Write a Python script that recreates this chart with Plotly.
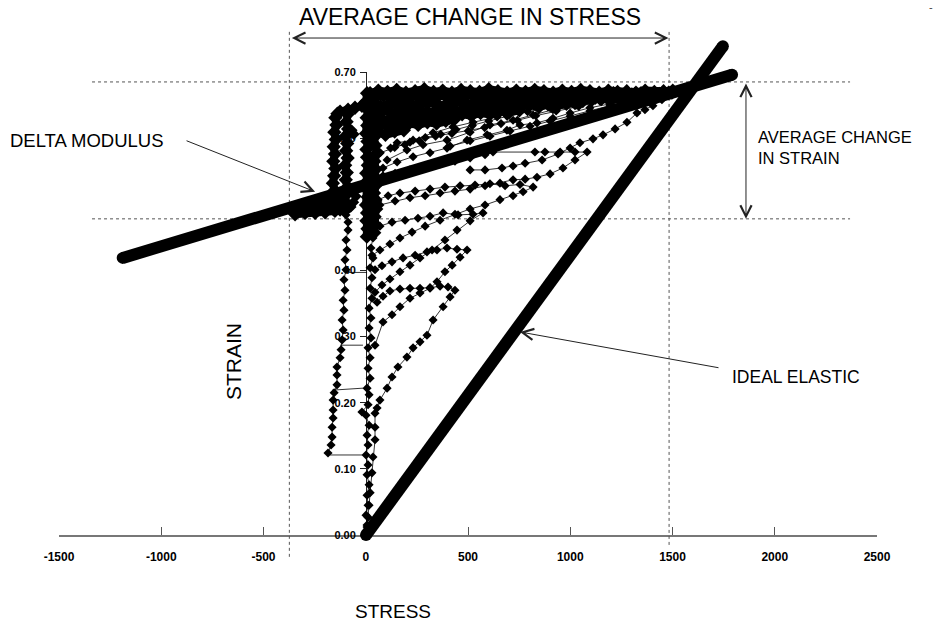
import plotly.graph_objects as go

# ---------------- axis ticks ----------------
x_ticks = [-1500, -1000, -500, 0, 500, 1000, 1500, 2000, 2500]
x_labels = ["-1500", "-1000", "-500", "0", "500", "1000", "1500", "2000", "2500"]
y_ticks = [0.0, 0.1, 0.2, 0.3, 0.4, 0.5, 0.6, 0.7]

# ---------------- reference lines ----------------
ideal_stress = [0, 1745]
ideal_strain = [0.0, 0.739]
delta_stress = [-1190, 1790]
delta_strain = [0.419, 0.696]

# guide levels (average change in stress / strain)
stress_lo, stress_hi = -375, 1482
strain_lo, strain_hi = 0.478, 0.685

# ---------------- measured loops (stress, strain) ----------------
L1_x = [0, 5, 10, 15, 20, 29, 34, 44, 44, 44, 54, 68, 103, 127, 156, 200, 230, 264, 298, 328,
        377, 411, 435, 401, 362, 313, 264, 215, 166, 117, 83, 54]
L1_y = [0, 0.012, 0.027, 0.045, 0.064, 0.094, 0.118, 0.144, 0.163, 0.184, 0.192, 0.204, 0.222,
        0.239, 0.254, 0.269, 0.283, 0.292, 0.302, 0.325, 0.345, 0.360, 0.370, 0.375, 0.376,
        0.374, 0.373, 0.373, 0.372, 0.369, 0.361, 0.352]

L2_x = [44, 83, 127, 166, 215, 264, 313, 347, 386, 421, 460, 494, 445, 396, 347, 298, 240, 181, 127, 78, 44]
L2_y = [0.287, 0.322, 0.333, 0.345, 0.358, 0.366, 0.373, 0.383, 0.398, 0.408, 0.420, 0.431, 0.432,
        0.434, 0.431, 0.428, 0.423, 0.419, 0.413, 0.407, 0.401]

L3_x = [44, 78, 117, 166, 215, 264, 323, 386, 445, 509, 572, 523, 450, 377, 313, 254, 191, 127, 68, 29]
L3_y = [0.367, 0.378, 0.387, 0.398, 0.408, 0.419, 0.431, 0.446, 0.461, 0.475, 0.487, 0.485, 0.484,
        0.487, 0.482, 0.479, 0.476, 0.473, 0.467, 0.461]

L4_x = [29, 68, 117, 166, 225, 289, 362, 435, 509, 582, 655, 719, 768, 817, 753, 680, 606, 533,
        460, 386, 313, 240, 166, 108, 59]
L4_y = [0.423, 0.431, 0.440, 0.449, 0.458, 0.467, 0.476, 0.485, 0.493, 0.499, 0.507, 0.513, 0.519,
        0.526, 0.530, 0.528, 0.531, 0.529, 0.528, 0.526, 0.523, 0.520, 0.517, 0.513, 0.507]

L5_x = [68, 142, 215, 289, 362, 435, 509, 582, 655, 719, 778, 836, 900, 963, 1022, 1081, 1022, 949,
        875, 826, 621, 582, 509, 435, 362, 289, 215, 142, 83]
L5_y = [0.499, 0.505, 0.510, 0.513, 0.517, 0.520, 0.523, 0.528, 0.532, 0.537, 0.538, 0.541, 0.546,
        0.555, 0.567, 0.579, 0.579, 0.579, 0.579, 0.579, 0.579, 0.575, 0.570, 0.565, 0.561, 0.556,
        0.552, 0.547, 0.543]

L6_x = [509, 582, 665, 719, 778, 861, 939, 998, 1046, 1110, 1159, 1218, 1276, 1325, 1364, 1403, 1447, 1496, 1550]
L6_y = [0.552, 0.552, 0.555, 0.558, 0.562, 0.567, 0.576, 0.585, 0.593, 0.599, 0.605, 0.614, 0.624,
        0.638, 0.643, 0.649, 0.658, 0.665, 0.673]

Ca_x = [83, 152, 230, 313, 396, 494, 592, 689, 753, 836, 914, 998, 1095, 1193, 1291, 1413, 1511]
Ca_y = [0.555, 0.564, 0.572, 0.578, 0.585, 0.597, 0.605, 0.612, 0.620, 0.623, 0.630, 0.638, 0.646,
        0.652, 0.658, 0.665, 0.671]
Cb_x = [103, 200, 279, 396, 509, 606, 719, 817, 914, 1022, 1144, 1267, 1389]
Cb_y = [0.567, 0.582, 0.590, 0.597, 0.609, 0.620, 0.627, 0.635, 0.643, 0.649, 0.656, 0.662, 0.668]
Cc_x = [152, 230, 328, 425, 523, 641, 753, 885, 1022, 1169, 1315]
Cc_y = [0.593, 0.597, 0.608, 0.617, 0.624, 0.632, 0.643, 0.653, 0.661, 0.667, 0.671]
Cd_x = [411, 509, 606, 704, 802, 900, 998, 1095, 1193, 1291, 1389, 1487]
Cd_y = [0.588, 0.596, 0.603, 0.611, 0.618, 0.626, 0.633, 0.641, 0.649, 0.657, 0.663, 0.669]
Ce_x = [70, 140, 215, 290, 365, 440, 520, 600, 690, 790, 900, 1010, 1120, 1240, 1360, 1480]
Ce_y = [0.578, 0.586, 0.594, 0.601, 0.606, 0.613, 0.619, 0.626, 0.633, 0.640, 0.646, 0.652, 0.657,
        0.662, 0.667, 0.671]
Cf_x = [120, 190, 260, 340, 420, 500, 580, 660, 740, 830, 930, 1040, 1150, 1260, 1380]
Cf_y = [0.585, 0.590, 0.596, 0.603, 0.607, 0.611, 0.616, 0.622, 0.627, 0.634, 0.641, 0.648, 0.655,
        0.661, 0.666]

# dense upper branches (top band)
RA_x = [20, 60, 105, 150, 195, 240, 285, 330, 375, 420, 465, 510, 555, 600, 645, 690, 735, 780, 825,
        870, 915, 960, 1005, 1050, 1095, 1140, 1185, 1230, 1275, 1320, 1365, 1410, 1455, 1500, 1545, 1580]
RA_y = [0.668, 0.672, 0.670, 0.673, 0.669, 0.671, 0.674, 0.670, 0.672, 0.669, 0.673, 0.671, 0.670,
        0.674, 0.671, 0.669, 0.672, 0.670, 0.673, 0.671, 0.669, 0.672, 0.670, 0.673, 0.671, 0.669,
        0.672, 0.670, 0.671, 0.669, 0.672, 0.670, 0.671, 0.672, 0.670, 0.672]
RB_x = [40, 85, 130, 175, 220, 265, 310, 355, 400, 445, 490, 535, 580, 625, 670, 715, 760, 805, 850,
        895, 940, 985, 1030, 1075, 1120, 1165, 1210, 1255, 1300, 1345, 1390, 1435, 1480]
RB_y = [0.661, 0.664, 0.660, 0.663, 0.662, 0.665, 0.661, 0.664, 0.662, 0.660, 0.665, 0.663, 0.661,
        0.664, 0.662, 0.666, 0.663, 0.661, 0.665, 0.663, 0.666, 0.662, 0.664, 0.667, 0.663, 0.665,
        0.668, 0.664, 0.666, 0.668, 0.665, 0.667, 0.669]
RC_x = [25, 70, 115, 160, 205, 250, 295, 340, 385, 430, 475, 520, 565, 610, 655, 700, 745, 790, 835,
        880, 925, 970, 1015, 1060, 1105, 1150, 1195, 1240, 1290]
RC_y = [0.651, 0.648, 0.652, 0.649, 0.653, 0.650, 0.654, 0.651, 0.649, 0.653, 0.655, 0.651, 0.654,
        0.652, 0.656, 0.653, 0.657, 0.654, 0.656, 0.658, 0.655, 0.657, 0.659, 0.656, 0.658, 0.660,
        0.657, 0.660, 0.662]
RD_x = [35, 80, 125, 170, 215, 260, 305, 350, 395, 440, 485, 530, 575, 620, 665, 710, 755, 800, 845,
        890, 935, 980, 1030]
RD_y = [0.639, 0.642, 0.638, 0.641, 0.640, 0.643, 0.639, 0.642, 0.644, 0.641, 0.645, 0.643, 0.646,
        0.644, 0.647, 0.645, 0.648, 0.650, 0.647, 0.651, 0.649, 0.652, 0.654]
RE_x = [20, 65, 110, 155, 200, 245, 290, 335, 380, 425, 470, 515, 560, 605, 650, 700, 750]
RE_y = [0.628, 0.631, 0.627, 0.630, 0.632, 0.629, 0.633, 0.631, 0.634, 0.632, 0.636, 0.634, 0.638,
        0.636, 0.640, 0.639, 0.642]
RF_x = [30, 75, 120, 165, 210, 255, 300, 345, 390, 430]
RF_y = [0.617, 0.620, 0.616, 0.619, 0.622, 0.620, 0.624, 0.622, 0.626, 0.628]
RG_x = [15, 55, 95, 140, 185]
RG_y = [0.606, 0.609, 0.605, 0.610, 0.612]

# columns near zero stress and at negative stress
CR_x = [0, 5, 0, 10, 5, 15, 5, 10, 0, 10, 5, 15, 0, -20, 10, 15, 5, 20, 10, 20, 10, 24, 15, 24, 15,
        29, 20, 29, 20, 34, 24, 34, 24, 39, 29, 39]
CR_y = [0, 0.015, 0.030, 0.045, 0.060, 0.076, 0.091, 0.106, 0.121, 0.136, 0.151, 0.166, 0.181, 0.186,
        0.197, 0.212, 0.222, 0.237, 0.252, 0.268, 0.283, 0.298, 0.313, 0.328, 0.343, 0.358, 0.373,
        0.389, 0.404, 0.419, 0.434, 0.449, 0.464, 0.479, 0.494, 0.510]
R1_x = [5, 0, 8, 3, 6, 0, 7, 2, 5, 9, 1, 6, 3, 8, 0, 5, 2, 7, 4]
R1_y = [0.668, 0.655, 0.643, 0.631, 0.619, 0.607, 0.595, 0.583, 0.571, 0.559, 0.547, 0.535, 0.523,
        0.511, 0.499, 0.487, 0.475, 0.463, 0.451]
R2_x = [40, 48, 42, 50, 44, 38, 46, 52, 41, 47, 43, 49, 39, 45, 50, 42, 46, 40]
R2_y = [0.662, 0.649, 0.637, 0.625, 0.613, 0.601, 0.589, 0.577, 0.565, 0.553, 0.541, 0.529, 0.517,
        0.505, 0.493, 0.481, 0.469, 0.457]
CL_x = [-186, -171, -166, -166, -161, -161, -161, -156, -142, -142, -142, -127, -122, -117, -112,
        -117, -108, -112, -103, -108, -98, -103, -93, -98, -88, -88, -98, -127]
CL_y = [0.124, 0.136, 0.148, 0.163, 0.177, 0.189, 0.204, 0.215, 0.227, 0.242, 0.254, 0.268, 0.280,
        0.295, 0.310, 0.325, 0.340, 0.355, 0.370, 0.386, 0.401, 0.416, 0.431, 0.446, 0.461, 0.473,
        0.484, 0.488]
N1_x = [-150, -145, -155, -148, -158, -152, -160, -150, -156, -162, -154, -165, -160]
N1_y = [0.631, 0.620, 0.609, 0.598, 0.587, 0.576, 0.565, 0.554, 0.543, 0.532, 0.521, 0.510, 0.499]
N2_x = [-90, -95, -88, -100, -92, -97, -90, -102, -94, -99, -91, -96, -103, -95]
N2_y = [0.636, 0.625, 0.614, 0.603, 0.592, 0.581, 0.570, 0.559, 0.548, 0.537, 0.526, 0.515, 0.504, 0.493]
NT_x = [-140, -127, -88, -54, -20]
NT_y = [0.637, 0.640, 0.643, 0.646, 0.649]
NJ_x = [-70, -60, -50, -62, -75]
NJ_y = [0.612, 0.606, 0.512, 0.503, 0.496]
BU_x = [-347, -298, -249, -200, -152, -103, -127, -225, -323]
BU_y = [0.485, 0.487, 0.487, 0.488, 0.490, 0.491, 0.502, 0.499, 0.494]
CN_x = [-176, -20, None, -166, -15, None, -127, -15, None, -88, 5]
CN_y = [0.121, 0.121, None, 0.219, 0.222, None, 0.287, 0.287, None, 0.397, 0.397]

# ---------------- figure ----------------
W, H = 939, 627
FONT = "Liberation Sans, Arial, sans-serif"
fig = go.Figure()

# dummy trace so the axis subplot is drawn
fig.add_trace(go.Scatter(x=[x_ticks[0], x_ticks[-1]], y=[y_ticks[0], y_ticks[-1]], mode="markers",
                         marker=dict(opacity=0), hoverinfo="skip", xaxis="x", yaxis="y"))


def pts(xs, ys, size=7, lw=0.8, mode="lines+markers"):
    fig.add_trace(go.Scatter(x=xs, y=ys, mode=mode, xaxis="x2", yaxis="y2",
                             line=dict(color="black", width=lw),
                             marker=dict(symbol="diamond", size=size, color="black", line=dict(width=0)),
                             hoverinfo="skip"))


pts(CN_x, CN_y, mode="lines")
for xs, ys in [(CR_x, CR_y), (CL_x, CL_y), (L1_x, L1_y), (L2_x, L2_y), (L3_x, L3_y),
               (L4_x, L4_y), (L5_x, L5_y), (L6_x, L6_y), (Ca_x, Ca_y), (Cb_x, Cb_y),
               (Cc_x, Cc_y), (Cd_x, Cd_y), (Ce_x, Ce_y), (Cf_x, Cf_y)]:
    pts(xs, ys, size=7)
pts(NJ_x, NJ_y, size=9, mode="markers")
# dense, overlapping parts of the record (solid-looking mass)
for xs, ys in [(RA_x, RA_y), (RB_x, RB_y), (RC_x, RC_y), (RD_x, RD_y), (RE_x, RE_y),
               (RF_x, RF_y), (RG_x, RG_y), (R1_x, R1_y), (R2_x, R2_y), (N1_x, N1_y),
               (N2_x, N2_y), (NT_x, NT_y), (BU_x, BU_y)]:
    pts(xs, ys, size=11, lw=8)

# thick reference lines with round ends
for xs, ys in [(delta_stress, delta_strain), (ideal_stress, ideal_strain)]:
    fig.add_trace(go.Scatter(x=xs, y=ys, mode="lines+markers", xaxis="x2", yaxis="y2",
                             line=dict(color="black", width=12),
                             marker=dict(symbol="circle", size=12, color="black"),
                             hoverinfo="skip"))

dot = dict(color="#555", width=1, dash="dot")
shapes = [
    dict(type="line", xref="x2", yref="y2", x0=stress_lo, x1=stress_lo, y0=-0.033, y1=0.764, line=dot, layer="below"),
    dict(type="line", xref="x2", yref="y2", x0=stress_hi, x1=stress_hi, y0=-0.015, y1=0.764, line=dot, layer="below"),
    dict(type="line", xref="x2", yref="y2", x0=-1340, x1=2367, y0=strain_hi, y1=strain_hi, line=dot, layer="below"),
    dict(type="line", xref="x2", yref="y2", x0=-1340, x1=2367, y0=strain_lo, y1=strain_lo, line=dot, layer="below"),
]

arrow_common = dict(xref="x2", yref="y2", axref="x2", ayref="y2", text="", showarrow=True,
                    arrowcolor="#222", arrowwidth=1, arrowhead=5, arrowsize=2.2, standoff=0)
annotations = [
    dict(x=stress_hi - 3, y=0.7514, ax=stress_lo + 5, ay=0.7514, arrowside="end+start",
         startarrowhead=5, startarrowsize=2.2, startstandoff=0, **arrow_common),
    dict(x=1858, y=strain_lo, ax=1858, ay=strain_hi, arrowside="end+start",
         startarrowhead=5, startarrowsize=2.2, startstandoff=0, **arrow_common),
    dict(x=-249, y=0.519, ax=-885, ay=0.597, **arrow_common),
    dict(x=753, y=0.307, ax=1731, ay=0.2525, **arrow_common),
]


def label(text, px, py, size, xanchor="center", angle=0, align="center", color="black"):
    annotations.append(dict(text=text, x=px / W, y=1 - py / H, xref="paper", yref="paper",
                            xanchor=xanchor, yanchor="middle", showarrow=False, textangle=angle,
                            align=align, font=dict(family=FONT, size=size, color=color)))


label("AVERAGE CHANGE IN STRESS", 470, 17, 23)
label("DELTA MODULUS", 8, 140, 18.5, xanchor="left")
label("AVERAGE CHANGE<br>IN STRAIN", 756, 147, 16.5, xanchor="left", align="left")
label("IDEAL ELASTIC", 730, 377, 17.5, xanchor="left")
label("STRAIN", 233, 362, 21, angle=-90)
label("STRESS", 393, 611, 19)
label("-", 931, 7, 11, color="#444")

fig.update_layout(
    width=W, height=H, margin=dict(l=0, r=0, t=0, b=0, pad=0, autoexpand=False),
    paper_bgcolor="white", plot_bgcolor="rgba(0,0,0,0)", showlegend=False,
    shapes=shapes, annotations=annotations,
    xaxis=dict(domain=[59 / W, 877 / W], range=[-1500, 2500], anchor="y", showline=True,
               linecolor="#777", linewidth=1.5, ticks="inside", ticklen=8, tickcolor="#555",
               tickvals=x_ticks, ticktext=x_labels, showgrid=False, zeroline=False,
               ticklabelstandoff=10, layer="below traces", automargin=False,
               tickfont=dict(family=FONT, size=12, color="black", weight="bold")),
    yaxis=dict(domain=[(H - 535) / H, (H - 72) / H], range=[0, 0.7], anchor="free",
               position=366 / W, showline=True, linecolor="#222", linewidth=1, ticks="outside",
               ticklen=6, tickcolor="#222", tickvals=y_ticks, tickformat=".2f", showgrid=False,
               zeroline=False, layer="below traces", ticklabelstandoff=2, automargin=False,
               tickfont=dict(family=FONT, size=11, color="black", weight="bold")),
    xaxis2=dict(domain=[0, 1], range=[-1790, 2802], anchor="y2", visible=False, automargin=False),
    yaxis2=dict(domain=[0, 1], range=[-0.1391, 0.8089], anchor="x2", visible=False, automargin=False),
)

fig.write_html("out.html")
